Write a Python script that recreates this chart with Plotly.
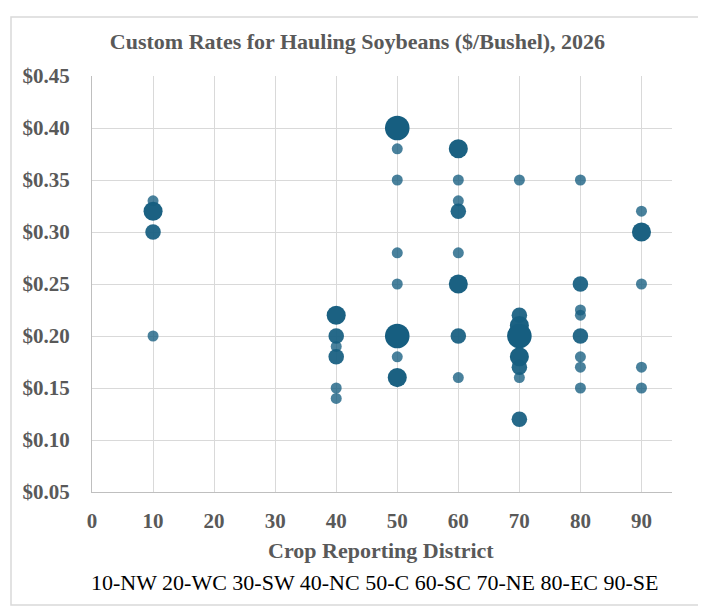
import plotly.graph_objects as go

# Data: district, rate ($/bushel), number of responses (bubble size)
districts = [10, 10, 10, 10,
             40, 40, 40, 40, 40, 40,
             50, 50, 50, 50, 50, 50, 50, 50,
             60, 60, 60, 60, 60, 60, 60, 60,
             70, 70, 70, 70, 70, 70, 70, 70,
             80, 80, 80, 80, 80, 80, 80, 80,
             90, 90, 90, 90, 90]
rates = [0.33, 0.32, 0.30, 0.20,
         0.22, 0.20, 0.19, 0.18, 0.15, 0.14,
         0.40, 0.38, 0.35, 0.28, 0.25, 0.20, 0.18, 0.16,
         0.38, 0.35, 0.33, 0.32, 0.28, 0.25, 0.20, 0.16,
         0.35, 0.22, 0.21, 0.20, 0.18, 0.17, 0.16, 0.12,
         0.35, 0.25, 0.225, 0.22, 0.20, 0.18, 0.17, 0.15,
         0.32, 0.30, 0.25, 0.17, 0.15]
counts = [1, 3, 2, 1,
          3, 2, 1, 2, 1, 1,
          5, 1, 1, 1, 1, 5, 1, 3,
          3, 1, 1, 2, 1, 3, 2, 1,
          1, 2, 3, 5, 3, 2, 1, 2,
          1, 2, 1, 1, 2, 1, 1, 1,
          1, 3, 1, 1, 1]

x_ticks = [0, 10, 20, 30, 40, 50, 60, 70, 80, 90]
y_ticks = [0.05, 0.10, 0.15, 0.20, 0.25, 0.30, 0.35, 0.40, 0.45]
y_tick_labels = ["$0.05", "$0.10", "$0.15", "$0.20", "$0.25", "$0.30", "$0.35", "$0.40", "$0.45"]

title_text = "Custom Rates for Hauling Soybeans ($/Bushel), 2026"
x_title = "Crop Reporting District"
footer = "10-NW 20-WC 30-SW 40-NC 50-C 60-SC 70-NE 80-EC 90-SE"

# page layout (the html body adds an 8px offset)
OFF = 8
PAGE_W, PAGE_H = 706, 610
W, H = PAGE_W - OFF, PAGE_H - OFF
P_L, P_R, P_T, P_B = 92, 672, 76, 492   # plot area in page pixels
ML, MR, MT, MB = P_L - OFF, PAGE_W - P_R, P_T - OFF, PAGE_H - P_B
PW, PH = P_R - P_L, P_B - P_T


def px_x(p):
    return (p - P_L) / PW


def px_y(p):
    return (P_B - p) / PH


alpha_by_count = {1: 0.78, 2: 0.93, 3: 0.98, 4: 1.0, 5: 1.0}
colors = [f"rgba(22,94,128,{alpha_by_count[c]})" for c in counts]

# draw larger bubbles on top
order = sorted(range(len(counts)), key=lambda i: counts[i])

fig = go.Figure(go.Scatter(
    x=[districts[i] for i in order],
    y=[rates[i] for i in order],
    mode="markers",
    marker=dict(
        size=[counts[i] for i in order],
        sizemode="area",
        sizeref=1 / 60.5,
        color=[colors[i] for i in order],
        opacity=1,
        line=dict(width=0),
    ),
    hoverinfo="x+y",
))

font_family = "Liberation Serif, Times New Roman, serif"
gray = "#595959"

fig.update_layout(
    width=W, height=H,
    margin=dict(l=ML, r=MR, t=MT, b=MB),
    paper_bgcolor="white",
    plot_bgcolor="white",
    showlegend=False,
    font=dict(family=font_family, color=gray),
    title=dict(text="<b>" + title_text + "</b>", xref="container",
               x=(357.5 - OFF) / W, xanchor="center",
               y=(PAGE_H - 41) / H, yanchor="middle",
               font=dict(size=22, color=gray, family=font_family)),
    xaxis=dict(
        range=[0, 95], tickvals=x_ticks,
        ticktext=[f"<b>{v}</b>" for v in x_ticks],
        showgrid=True, gridcolor="#d9d9d9", gridwidth=1,
        showline=True, linecolor="#bfbfbf", linewidth=1,
        zeroline=False, ticks="", ticklabelstandoff=10,
        tickfont=dict(size=21, color=gray, family=font_family),
    ),
    yaxis=dict(
        range=[0.05, 0.45], tickvals=y_ticks,
        ticktext=[f"<b>{t}</b>" for t in y_tick_labels],
        showgrid=True, gridcolor="#d9d9d9", gridwidth=1,
        showline=True, linecolor="#bfbfbf", linewidth=1,
        zeroline=False, ticks="", ticklabelstandoff=17,
        tickfont=dict(size=21, color=gray, family=font_family),
    ),
    annotations=[
        dict(text="<b>" + x_title + "</b>", xref="paper", yref="paper",
             x=px_x(380.5), y=px_y(550), xanchor="center", yanchor="middle",
             showarrow=False, font=dict(size=22, color=gray, family=font_family)),
        dict(text=footer, xref="paper", yref="paper",
             x=px_x(375), y=px_y(582), xanchor="center", yanchor="middle",
             showarrow=False, font=dict(size=22, color="black", family=font_family)),
    ],
    shapes=[dict(
        type="rect", xref="paper", yref="paper",
        x0=px_x(11), x1=px_x(700), y0=px_y(605), y1=px_y(17),
        line=dict(color="#d9d9d9", width=1.5), fillcolor="rgba(0,0,0,0)",
        layer="below",
    )],
)

fig.write_html("out.html")
